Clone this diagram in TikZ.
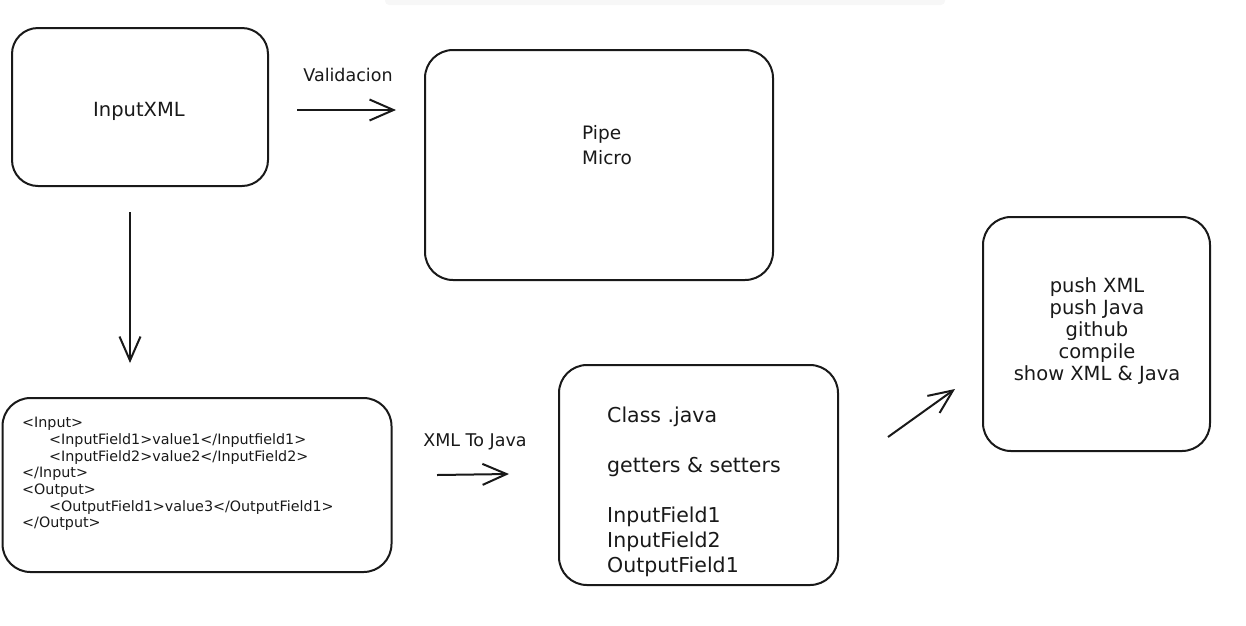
\documentclass[tikz,border=0pt]{standalone}
\usepackage{fontspec}
\setmainfont{DejaVu Sans}
\usetikzlibrary{arrows.meta}
\tikzset{
  box/.style={draw=black!90, line width=2pt, rounded corners=28pt, inner sep=0pt},
  lbl/.style={inner sep=0pt, text=black!90},
  conn/.style={draw=black!90, line width=2pt, -{Straight Barb[length=24pt,width=21pt,line width=2pt]}},
}
\begin{document}
\begin{tikzpicture}[x=1pt,y=-1pt]
\useasboundingbox (0,0) rectangle (1246,625);
% faint band at top
\fill[black!3, rounded corners=4pt] (385,-6) rectangle (945,5);

% boxes
\node[box, minimum width=256pt, minimum height=158pt, rounded corners=26pt] (inxml) at (140,107) {};
\node[box, minimum width=348pt, minimum height=230pt] (pipe) at (599,165) {};
\node[box, minimum width=389pt, minimum height=174pt] (xml) at (197,485) {};
\node[box, minimum width=279pt, minimum height=220pt] (cls) at (698.5,475) {};
\node[box, minimum width=227pt, minimum height=234pt] (push) at (1096.5,334) {};

% texts
\node[lbl, font=\fontsize{19.5}{24}\selectfont] (tinxml) at (139,111) {InputXML};
\node[lbl, anchor=west, align=left, font=\fontsize{18.5}{25}\selectfont] (tpipe) at (582,145.5) {Pipe\\Micro};
\node[lbl, anchor=west, align=left, font=\fontsize{14.3}{16.7}\selectfont] (txml) at (22,474)
  {<Input>\\
   \hspace*{27pt}<InputField1>value1</Inputfield1>\\
   \hspace*{27pt}<InputField2>value2</InputField2>\\
   </Input>\\
   <Output>\\
   \hspace*{27pt}<OutputField1>value3</OutputField1>\\
   </Output>};
\node[lbl, anchor=west, align=left, font=\fontsize{20.5}{25}\selectfont] (tcls) at (607,492)
  {Class .java\\[25pt]getters \& setters\\[25pt]InputField1\\InputField2\\OutputField1};
\node[lbl, align=center, font=\fontsize{19.5}{22}\selectfont] (tpush) at (1097,331)
  {push XML\\push Java\\github\\compile\\show XML \& Java};

% connectors
\coordinate (a1s) at (297,110);
\coordinate (a1e) at (396,110);
\coordinate (a2s) at (130,212);
\coordinate (a2e) at (130,363);
\coordinate (a3s) at (437,475);
\coordinate (a3e) at (509,474);
\coordinate (a4s) at (888,437);
\coordinate (a4e) at (955,389);
\draw[conn] (a1s) -- (a1e);
\draw[conn] (a2s) -- (a2e);
\draw[conn] (a3s) -- (a3e);
\draw[conn] (a4s) -- (a4e);

% connector labels
\node[lbl, font=\fontsize{17.5}{22}\selectfont] (lval) at (348,75) {Validacion};
\node[lbl, font=\fontsize{17.5}{22}\selectfont] (lxj) at (475,442) {XML To Java};
\end{tikzpicture}
\end{document}
